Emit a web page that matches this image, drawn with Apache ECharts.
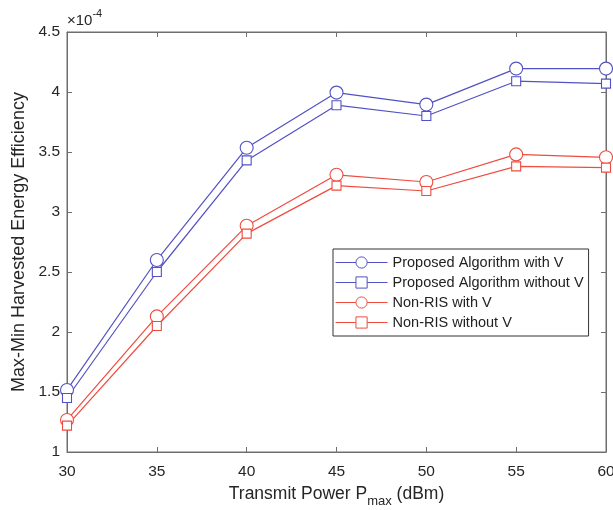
<!DOCTYPE html>
<html><head><meta charset="utf-8">
<script src="https://cdn.jsdelivr.net/npm/echarts@6/dist/echarts.min.js"></script>
<style>html,body{margin:0;padding:0;background:#fff}#c{width:613px;height:510px}</style>
</head><body><div id="c"></div>
<script>
var powers = [30, 35, 40, 45, 50, 55, 60];
var proposedWithV = [1.517, 2.60, 3.535, 3.995, 3.895, 4.195, 4.195];
var proposedWithoutV = [1.45, 2.50, 3.43, 3.89, 3.80, 4.09, 4.07];
var nonRisWithV = [1.267, 2.13, 2.885, 3.31, 3.25, 3.48, 3.456];
var nonRisWithoutV = [1.22, 2.05, 2.82, 3.22, 3.175, 3.38, 3.37];
var seriesNames = ['Proposed Algorithm with V','Proposed Algorithm without V','Non-RIS with V','Non-RIS without V'];
var xTicks = {min:30, max:60, interval:5};
var yTicks = {min:1, max:4.5, interval:0.5};

var BLUE = '#5252c4', RED = '#f04b3e';
var font = 'Liberation Sans, Arial, sans-serif';
function pairs(v){ return powers.map(function(p,i){return [p, v[i]];}); }
function mk(name, data, color, sym, size){
  return {name:name, type:'line', data:pairs(data), symbol:sym, symbolSize:size,
    showAllSymbol:true,
    lineStyle:{color:color, width:1.2}, itemStyle:{color:'#fff', borderColor:color, borderWidth:1.1},
    emphasis:{disabled:true}, animation:false};
}
var chart = echarts.init(document.getElementById('c'));
var axisCol = '#6e6e6e';
var txt = '#262626';
chart.setOption({
  animation:false,
  grid:{left:67, right:7, top:32, bottom:58, show:true, borderColor:axisCol, borderWidth:1, outerBoundsMode:'none', containLabel:false},
  xAxis:[{type:'value', min:xTicks.min, max:xTicks.max, interval:xTicks.interval,
    axisLine:{lineStyle:{color:axisCol}}, axisTick:{inside:true, length:5, lineStyle:{color:axisCol}},
    splitLine:{show:false},
    axisLabel:{color:txt, fontSize:15.5, fontFamily:font, margin:12},
    name:'{a|Transmit Power P}{s|max}{a| (dBm)}', nameLocation:'middle', nameGap:29,
    nameTextStyle:{rich:{a:{fontSize:17.5, color:txt, fontFamily:font}, s:{fontSize:13, color:txt, fontFamily:font, padding:[14,0,0,0]}}}
  },{type:'value', position:'top', min:xTicks.min, max:xTicks.max, interval:xTicks.interval,
    axisLine:{show:true, lineStyle:{color:axisCol}}, axisTick:{inside:true, length:5, lineStyle:{color:axisCol}},
    axisLabel:{show:false}, splitLine:{show:false}}],
  yAxis:[{type:'value', min:yTicks.min, max:yTicks.max, interval:yTicks.interval,
    axisLine:{show:true, lineStyle:{color:axisCol}}, axisTick:{show:true, inside:true, length:5, lineStyle:{color:axisCol}},
    splitLine:{show:false},
    axisLabel:{color:txt, fontSize:15.5, fontFamily:font, margin:7},
    name:'Max-Min Harvested Energy Efficiency', nameLocation:'middle', nameGap:38,
    nameTextStyle:{fontSize:18, color:txt, fontFamily:font}
  },{type:'value', position:'right', min:yTicks.min, max:yTicks.max, interval:yTicks.interval,
    axisLine:{show:true, lineStyle:{color:axisCol}}, axisTick:{show:true, inside:true, length:5, lineStyle:{color:axisCol}},
    axisLabel:{show:false}, splitLine:{show:false}}],
  legend:{orient:'vertical', left:333, top:249, data:seriesNames,
    backgroundColor:'#fff', borderColor:'#333', borderWidth:1, padding:[6,5,6,2],
    itemWidth:52, itemHeight:14, itemGap:5,
    itemStyle:{borderWidth:1}, lineStyle:{width:1.1},
    textStyle:{fontSize:14.5, color:'#222', fontFamily:font}},
  graphic:[{type:'text', left:67, top:8, style:{text:'{a|×10}{b|-4}', rich:{a:{fontSize:15, fill:txt, fontFamily:font, padding:[7,0,0,0]}, b:{fontSize:11, fill:txt, fontFamily:font, padding:[0,0,7,0]}}}}],
  series:[
    mk(seriesNames[0], proposedWithV, BLUE, 'circle', 13),
    mk(seriesNames[1], proposedWithoutV, BLUE, 'rect', 9),
    mk(seriesNames[2], nonRisWithV, RED, 'circle', 13),
    mk(seriesNames[3], nonRisWithoutV, RED, 'rect', 9)
  ]
});
</script></body></html>
